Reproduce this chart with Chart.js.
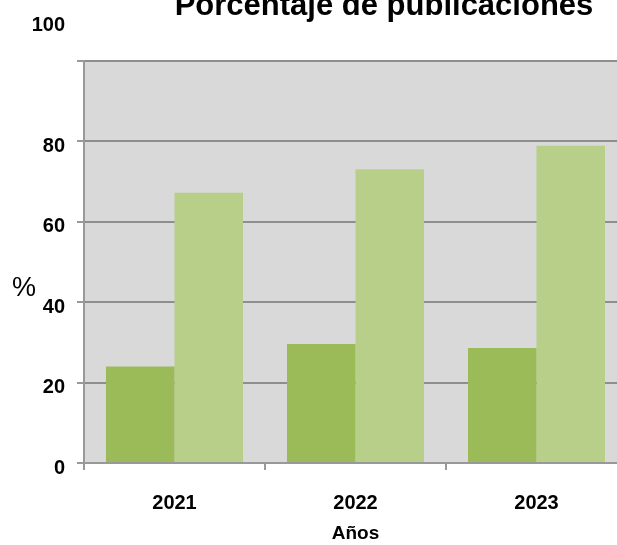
<!DOCTYPE html>
<html lang="es">
<head>
  <meta charset="UTF-8">
  <title>Porcentaje de publicaciones</title>
  <script src="https://cdn.jsdelivr.net/npm/chart.js"></script>
  <style>
    html, body {
      margin: 0;
      padding: 0;
      background: #fff;
      overflow: hidden;
    }
    #wrap {
      position: relative;
      width: 640px;
      height: 545px;
    }
  </style>
</head>
<body>
  <div id="wrap">
    <canvas id="pubChart"></canvas>
  </div>

<script>
  // datos
  const years = ['2021', '2022', '2023'];
  const serie1 = [24, 29.6, 28.6];
  const serie2 = [67.2, 73.1, 78.9];
  const yTicks = [0, 20, 40, 60, 80, 100];

  const FONT = '"Liberation Sans", Arial, Helvetica, sans-serif';

  // fondo gris del area, titulo, "%" y la etiqueta de 100
  const decor = {
    id: 'decor',
    beforeDraw(chart) {
      const { ctx, chartArea: a } = chart;
      ctx.save();
      ctx.fillStyle = '#d9d9d9';
      ctx.fillRect(a.left, a.top, a.right - a.left, a.bottom - a.top);
      ctx.restore();
    },
    afterDraw(chart) {
      const { ctx, chartArea: a } = chart;
      const y = chart.scales.y;
      ctx.save();
      ctx.fillStyle = '#000';

      ctx.font = 'bold 31px ' + FONT;
      ctx.textAlign = 'center';
      ctx.textBaseline = 'alphabetic';
      ctx.fillText('Porcentaje de publicaciones', a.left + 300, a.top - 46);

      ctx.font = '27px ' + FONT;
      ctx.textBaseline = 'middle';
      ctx.fillText('%', 24, y.getPixelForValue(50) + 27);

      ctx.font = 'bold 20px ' + FONT;
      ctx.textAlign = 'right';
      ctx.fillText(String(yTicks[yTicks.length - 1]), 65, y.getPixelForValue(100) - 36);
      ctx.restore();
    }
  };

  const ctx = document.getElementById('pubChart').getContext('2d');
  const chart = new Chart(ctx, {
    type: 'bar',
    data: {
      labels: years,
      datasets: [
        {
          label: 'Serie 1',
          data: serie1,
          backgroundColor: '#9bbb59',
          borderWidth: 0,
          barPercentage: 1.0,
          categoryPercentage: 0.757
        },
        {
          label: 'Serie 2',
          data: serie2,
          backgroundColor: '#b7cf88',
          borderWidth: 0,
          barPercentage: 1.0,
          categoryPercentage: 0.757
        }
      ]
    },
    options: {
      responsive: true,
      maintainAspectRatio: false,
      animation: false,
      layout: {
        padding: { top: 61, right: 13, bottom: 0, left: 0 }
      },
      plugins: {
        legend: { display: false },
        tooltip: { enabled: false }
      },
      scales: {
        x: {
          offset: true,
          grid: {
            offset: true,
            drawOnChartArea: false,
            drawTicks: true,
            tickLength: 7,
            tickColor: '#999',
            lineWidth: 2
          },
          border: { display: true, color: '#999', width: 2 },
          ticks: {
            color: '#000',
            padding: 21,
            font: { family: FONT, size: 20, weight: 'bold' }
          },
          title: {
            display: true,
            text: 'Años',
            color: '#000',
            padding: { top: 0, bottom: 0 },
            font: { family: FONT, size: 19, weight: 'bold' }
          },
          afterFit(scale) { scale.height = 82; }
        },
        y: {
          min: 0,
          max: 100,
          afterBuildTicks(scale) {
            scale.ticks = yTicks.map(v => ({ value: v }));
          },
          grid: {
            color: '#8e8e8e',
            lineWidth: 2,
            drawTicks: true,
            tickLength: 7,
            tickColor: '#999'
          },
          border: { display: true, color: '#999', width: 2 },
          ticks: {
            color: '#000',
            padding: 12,
            labelOffset: 5,
            font: { family: FONT, size: 20, weight: 'bold' },
            callback: v => (v === 100 ? '' : v)
          },
          afterFit(scale) { scale.width = 84; }
        }
      }
    },
    plugins: [decor]
  });
</script>
</body>
</html>
